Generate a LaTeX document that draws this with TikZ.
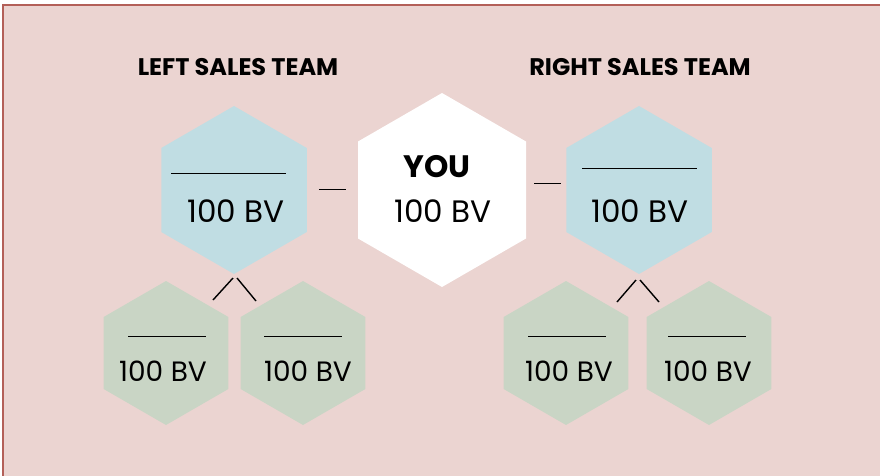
\documentclass[tikz,border=0pt]{standalone}
\usepackage{fontspec}
\setmainfont{Poppins}
\usetikzlibrary{shapes.geometric}

\definecolor{bgpink}{HTML}{EBD4D1}
\definecolor{framered}{HTML}{B35F58}
\definecolor{hexblue}{HTML}{C0DDE3}
\definecolor{hexgreen}{HTML}{C9D5C5}
\def\bigfont{\fontsize{31}{37}\selectfont}
\def\smallfont{\fontsize{28}{33}\selectfont}
\tikzstyle{hex}=[regular polygon,regular polygon sides=6,regular polygon rotate=30,
                 inner sep=0pt,outer sep=0pt,draw=none]
\tikzstyle{upline}=[hex,fill=hexblue,minimum size=168pt]
\tikzstyle{me}=[hex,fill=white,minimum size=194pt]
\tikzstyle{downline}=[hex,fill=hexgreen,minimum size=144pt]
\tikzstyle{bv}=[inner sep=0pt,anchor=base,text=black]
\tikzstyle{title}=[inner sep=0pt,anchor=base,text=black,font=\bfseries\fontsize{24}{29}\selectfont]
\tikzstyle{blank}=[line width=1pt,black]

\begin{document}
\begin{tikzpicture}[x=1pt,y=-1pt]
  \useasboundingbox (0,0) rectangle (880,476);
  % panel with red frame on top and left
  \fill[bgpink] (3,5) rectangle (880,476);
  \draw[framered,line width=2pt] (3,476) -- (3,5) -- (880,5);

  % team titles
  \node[title] (lefttitle) at (238,76) {LEFT SALES TEAM};
  \node[title] (righttitle) at (640,76) {RIGHT SALES TEAM};

  % you
  \node[me] (you) at (442,190) {};
  \node[bv,font=\bfseries\bigfont] (you-name) at ([shift={(-5,-13)}]you.center) {YOU};
  \node[bv,font=\bigfont] (you-val) at ([shift={(1,32)}]you.center) {100 BV};

  % first level
  \node[upline] (leftBlue) at (234,190) {};
  \draw[blank] ([shift={(-63,-17)}]leftBlue.center) -- ++(115,0);
  \node[bv,font=\bigfont] (leftBlue-val) at ([shift={(2,32)}]leftBlue.center) {100 BV};

  \node[upline] (rightBlue) at (639,190) {};
  \draw[blank] ([shift={(-57,-22)}]rightBlue.center) -- ++(115,0);
  \node[bv,font=\bigfont] (rightBlue-val) at ([shift={(1,32)}]rightBlue.center) {100 BV};

  % links to you
  \draw[blank] ([shift={(12,-1)}]leftBlue.east) -- ++(27,0);
  \draw[blank] ([shift={(-32,-7)}]rightBlue.west) -- ++(27,0);

  % second level, left
  \node[downline] (leftA) at (166,353) {};
  \draw[blank] ([shift={(-38,-17)}]leftA.center) -- ++(78,0);
  \node[bv,font=\smallfont] (leftA-val) at ([shift={(-3,28)}]leftA.center) {100 BV};

  \node[downline] (leftB) at (303,353) {};
  \draw[blank] ([shift={(-39,-17)}]leftB.center) -- ++(78,0);
  \node[bv,font=\smallfont] (leftB-val) at ([shift={(5,28)}]leftB.center) {100 BV};

  % second level, right
  \node[downline] (rightA) at (566,353) {};
  \draw[blank] ([shift={(-38,-17)}]rightA.center) -- ++(78,0);
  \node[bv,font=\smallfont] (rightA-val) at ([shift={(3,28)}]rightA.center) {100 BV};

  \node[downline] (rightB) at (709,353) {};
  \draw[blank] ([shift={(-41,-17)}]rightB.center) -- ++(78,0);
  \node[bv,font=\smallfont] (rightB-val) at ([shift={(-1,28)}]rightB.center) {100 BV};

  % legs
  \draw[blank,line width=1.4pt] ([shift={(-1,4)}]leftBlue.south) -- ([shift={(-21,26)}]leftBlue.south);
  \draw[blank,line width=1.4pt] ([shift={(3,4)}]leftBlue.south) -- ([shift={(22,27)}]leftBlue.south);
  \draw[blank,line width=1.4pt] ([shift={(-3,6)}]rightBlue.south) -- ([shift={(-22,28)}]rightBlue.south);
  \draw[blank,line width=1.4pt] ([shift={(1,6)}]rightBlue.south) -- ([shift={(20,28)}]rightBlue.south);
\end{tikzpicture}
\end{document}
